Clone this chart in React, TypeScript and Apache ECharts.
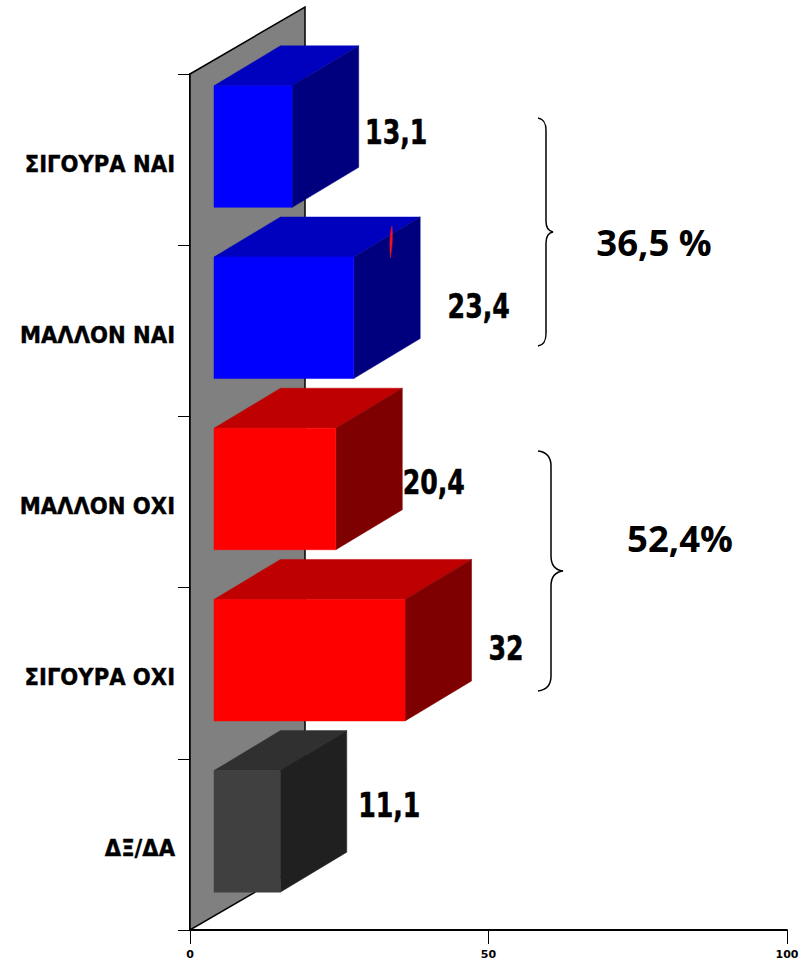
import React, { useEffect, useRef } from "react";
import * as echarts from "echarts";

const categories = ["ΣΙΓΟΥΡΑ ΝΑΙ", "ΜΑΛΛΟΝ ΝΑΙ", "ΜΑΛΛΟΝ ΟΧΙ", "ΣΙΓΟΥΡΑ ΟΧΙ", "ΔΞ/ΔΑ"];
const values = [13.1, 23.4, 20.4, 32, 11.1];
const valueTexts = ["13,1", "23,4", "20,4", "32", "11,1"];
const frontColors = ["#0000FF", "#0000FF", "#FF0000", "#FF0000", "#404040"];
const topColors = ["#0000BF", "#0000BF", "#BF0000", "#BF0000", "#303030"];
const sideColors = ["#00007F", "#00007F", "#7F0000", "#7F0000", "#202020"];
const labelOffsetsX = [104, 125, 98, 101, 109];
const labelOffsetsY = [-27, -24, -19, -25, -39];

const CONDENSED = '"DejaVu Sans Condensed", "DejaVu Sans", sans-serif';
const PLAIN = '"DejaVu Sans", sans-serif';
const WIDE = '"Open Sans", "Noto Sans", sans-serif';

const BRACE_A = "M538 118 C544 119 546 123 546 131 L546 221 C546 228 548 231 553 232 C548 233 546 236 546 243 L546 333 C546 341 544 345 538 346";
const BRACE_B = "M538 451 C546 452 551 457 551 466 L551 556 C551 565 555 570 563 571 C555 572 551 577 551 586 L551 676 C551 685 546 690 538 691";
const MARK = "M392 226 C389.5 233 389.5 248 390.5 258 C392 248 393 236 392 226 Z";

echarts.graphic.registerShape("braceA", echarts.graphic.extendPath(BRACE_A, {}));
echarts.graphic.registerShape("braceB", echarts.graphic.extendPath(BRACE_B, {}));
echarts.graphic.registerShape("markC", echarts.graphic.extendPath(MARK, {}));

export default function App() {
  const ref = useRef<HTMLDivElement>(null);
  useEffect(() => {
    const chart = echarts.init(ref.current!, undefined, { renderer: "svg" });
    const wallDx = 115;
    const wallDy = 67;
    const boxInset = 24;
    const boxDx = 66.5;
    const boxDy = 40;
    chart.setOption({
      animation: false,
      backgroundColor: "#fff",
      grid: { left: 190, right: 24, top: 74, bottom: 32, containLabel: false },
      xAxis: {
        type: "value",
        min: 0,
        max: 100,
        interval: 50,
        splitLine: { show: false },
        axisLine: { show: true, lineStyle: { color: "#000", width: 2 } },
        axisTick: { show: true, length: 14, lineStyle: { color: "#000", width: 1 } },
        axisLabel: {
          margin: 19,
          color: "#000",
          fontFamily: PLAIN,
          fontWeight: "bold",
          fontSize: 11,
          showMinLabel: true,
          showMaxLabel: true,
        },
      },
      yAxis: {
        type: "category",
        inverse: true,
        data: categories,
        axisLine: { show: true, onZero: false, lineStyle: { color: "#000", width: 2 } },
        axisTick: { show: true, length: 12, lineStyle: { color: "#000", width: 1 } },
        axisLabel: {
          margin: 15,
          color: "#000",
          fontFamily: CONDENSED,
          fontWeight: "bold",
          fontSize: 23.5,
          verticalAlign: "top",
          lineHeight: 8,
          textBorderColor: "#000",
          textBorderWidth: 0.4,
          interval: 0,
        },
      },
      series: [
        {
          type: "custom",
          z: 1,
          silent: true,
          clip: false,
          data: [[0, 0]],
          encode: { x: 0, y: 1 },
          renderItem: (params: any, api: any) => {
            const cs = params.coordSys;
            const l = cs.x;
            const t = cs.y;
            const b = cs.y + cs.height;
            return {
              type: "polygon",
              shape: {
                points: [
                  [l, t],
                  [l + wallDx, t - wallDy],
                  [l + wallDx, b - wallDy],
                  [l, b],
                ],
              },
              style: { fill: "#808080", stroke: "#000", lineWidth: 1.5 },
            };
          },
        },
        {
          type: "custom",
          z: 3,
          silent: true,
          clip: false,
          data: values.map((v, i) => [v, i]),
          encode: { x: 0, y: 1 },
          renderItem: (params: any, api: any) => {
            const i = params.dataIndex;
            const end = api.coord([api.value(0), i]);
            const zero = api.coord([0, i]);
            const band = api.size([0, 1])[1];
            const x0 = zero[0] + boxInset;
            const x1 = end[0] + boxInset;
            const y0 = end[1] - band * 0.431;
            const y1 = end[1] + band * 0.279;
            const poly = (pts: number[][], fill: string) => ({
              type: "polygon",
              shape: { points: pts },
              style: { fill, stroke: fill, lineWidth: 0.5 },
            });
            return {
              type: "group",
              children: [
                poly(
                  [
                    [x0, y0],
                    [x0 + boxDx, y0 - boxDy],
                    [x1 + boxDx, y0 - boxDy],
                    [x1, y0],
                  ],
                  topColors[i]
                ),
                poly(
                  [
                    [x1, y0],
                    [x1 + boxDx, y0 - boxDy],
                    [x1 + boxDx, y1 - boxDy],
                    [x1, y1],
                  ],
                  sideColors[i]
                ),
                poly(
                  [
                    [x0, y0],
                    [x1, y0],
                    [x1, y1],
                    [x0, y1],
                  ],
                  frontColors[i]
                ),
                {
                  type: "text",
                  x: x1 + labelOffsetsX[i],
                  y: end[1] + labelOffsetsY[i],
                  scaleX: 0.85,
                  style: {
                    text: valueTexts[i],
                    fill: "#000",
                    stroke: "#000",
                    lineWidth: 0.5,
                    fontFamily: CONDENSED,
                    fontWeight: "bold",
                    fontSize: 33,
                    align: "center",
                    verticalAlign: "middle",
                  },
                },
              ],
            };
          },
        },
      ],
      graphic: [
        { type: "braceA", x: 0, y: 0, style: { fill: "none", stroke: "#000", lineWidth: 1.5 } },
        { type: "braceB", x: 0, y: 0, style: { fill: "none", stroke: "#000", lineWidth: 1.5 } },
        { type: "markC", x: 0, y: 0, z: 10, style: { fill: "#F01020", stroke: "#F01020", lineWidth: 0.5 } },
        {
          type: "text",
          x: 654,
          y: 242,
          style: {
            text: "36,5 %",
            fill: "#000",
            fontFamily: WIDE,
            fontWeight: "bold",
            fontSize: 36.5,
            align: "center",
            verticalAlign: "middle",
          },
        },
        {
          type: "text",
          x: 680,
          y: 538,
          style: {
            text: "52,4%",
            fill: "#000",
            fontFamily: WIDE,
            fontWeight: "bold",
            fontSize: 36.5,
            align: "center",
            verticalAlign: "middle",
          },
        },
      ],
    });
    return () => chart.dispose();
  }, []);
  return <div ref={ref} style={{ position: "absolute", left: 0, top: 0, width: 811, height: 962 }} />;
}
